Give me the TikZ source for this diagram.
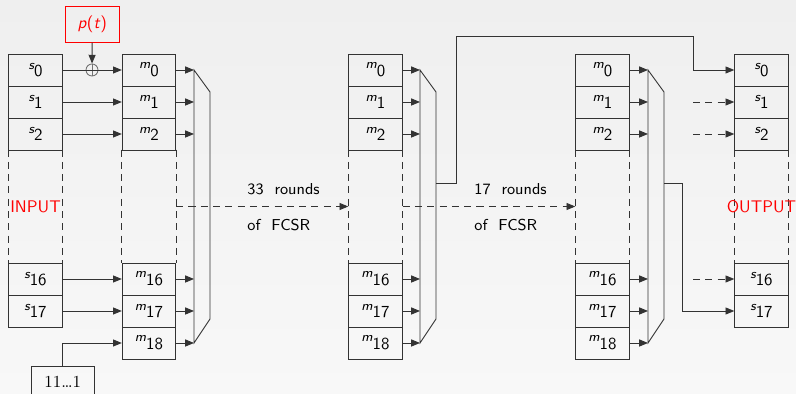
\documentclass[tikz,border=0pt]{standalone}
\usepackage{fontspec}
\usepackage{tikz}
\usetikzlibrary{arrows.meta,positioning}
\renewcommand{\familydefault}{\sfdefault}

\definecolor{bgtop}{RGB}{239,239,239}
\definecolor{bgbot}{RGB}{248,248,248}

% register label: small raised letter, index on the baseline
\newcommand{\rg}[2]{{\fontsize{7.6}{8}\selectfont\raisebox{4.4pt}{\itshape #1}}#2}

\tikzset{
  reg/.style={draw=black!80, minimum width=1.07cm, minimum height=0.64cm,
    inner sep=0pt, font=\fontsize{9.6}{11}\selectfont},
  gap/.style={minimum width=1.07cm, minimum height=2.26cm, inner sep=0pt,
    text=red, font=\fontsize{9.6}{11}\selectfont},
  wire/.style={draw=black!80},
  arr/.style={wire, -{Triangle[length=5pt,width=4pt]}},
  dline/.style={dash pattern=on 4pt off 3pt},
  txt/.style={anchor=west, inner sep=0pt, font=\fontsize{9}{10}\selectfont},
}

\begin{document}
\begin{tikzpicture}[x=0.02cm, y=-0.02cm, line width=0.5pt]
\shade[top color=bgtop, bottom color=bgbot] (0,0) rectangle (796,394);
\useasboundingbox (0,0) rectangle (796,394);

% register columns: input s, three copies of m, output s
\foreach \col/\x/\l in {s/35.5/s, a/149/m, b/375.5/m, c/602.5/m, o/761.5/s} {
  \foreach \i/\y in {0/70, 1/102, 2/134, 16/279, 17/311}
    \node[reg] (\col\i) at (\x,\y) {\rg{\l}{\i}};
  \node[gap] (\col-gap) at (\x,206.5) {};
  \draw[wire, dline] (\col-gap.north west) -- (\col-gap.south west)
                     (\col-gap.north east) -- (\col-gap.south east);
}
\foreach \col/\x in {a/149, b/375.5, c/602.5}
  \node[reg] (\col18) at (\x,343) {\rg{m}{18}};

\node[gap] at (s-gap) {INPUT};
\node[gap] at (o-gap) {OUTPUT};

% combiners after each m column
\foreach \col/\x in {a/194, b/420, c/648} {
  \draw[wire] (\x,70) -- (\x+16,92) -- (\x+16,319) -- (\x,343) -- cycle;
  \coordinate (\col-in) at (\x,70);
  \coordinate (\col-out) at (\x+16,183);
  \foreach \i in {0,1,2,16,17,18}
    \draw[arr] (\col\i.east) -- (\col\i.east -| \col-in);
}

% loading the state
\node[draw=red, text=red, minimum width=1.07cm, minimum height=0.71cm,
  font=\fontsize{9.6}{11}\selectfont] (pt) at (92.3,24.5) {\textit{p}(\textit{t})};
\node[circle, draw=black!55, minimum size=0.24cm, inner sep=0pt] (xor) at (92,70) {};
\draw[black!55] (xor.north) -- (xor.south);
\draw[arr] (s0) -- (a0);
\draw[arr] (pt) -- (xor);
\foreach \i in {1,2,16,17}
  \draw[arr] (s\i) -- (a\i);

\node[draw=black!80, minimum width=1.26cm, minimum height=0.64cm,
  font=\rmfamily\fontsize{9.6}{11}\selectfont] (ones) at (62.7,382) {11\ldots1};
\draw[arr] (ones) |- (a18);

% clocking
\draw[arr, dline] (a-gap) -- (b-gap);
\node[txt] (r33) at (247,189) {33\ \ rounds};
\node[txt] (f33) at (247,225) {of\ \ FCSR};
\draw[arr, dline] (b-gap) -- (c-gap);
\node[txt] (r17) at (474,189) {17\ \ rounds};
\node[txt] (f17) at (474,225) {of\ \ FCSR};

% output
\coordinate (fb) at (693,36);
\draw[arr] (b-out) -- ++(20,0) |- (fb) |- (o0);
\draw[arr] (c-out) -- ++(18,0) |- (o17);
\foreach \i in {1,2,16}
  \draw[arr, dline] (o\i.west -| fb) -- (o\i);
\end{tikzpicture}
\end{document}
